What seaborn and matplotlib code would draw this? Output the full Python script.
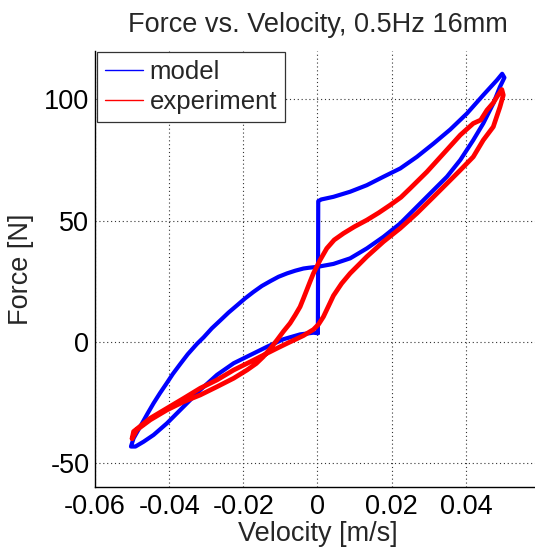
import numpy as np
import pandas as pd
import matplotlib
matplotlib.use("Agg")
import matplotlib.pyplot as plt
from matplotlib.lines import Line2D
import seaborn as sns

# Model loop: jump at v=0, upper branch to +v tip, return branch to -v tip, back to v=0
model_velocity = [
    0.0001, 0.0002, 0.0010, 0.0043, 0.0088, 0.0133, 0.0178, 0.0223, 0.0268,
    0.0313, 0.0358, 0.0403, 0.0447, 0.0484, 0.0498, 0.0504, 0.0492, 0.0474,
    0.0447, 0.0420, 0.0385, 0.0349, 0.0313, 0.0268, 0.0223, 0.0178, 0.0133,
    0.0088, 0.0043, 0.0000, -0.0024, -0.0038, -0.0060, -0.0082, -0.0105,
    -0.0127, -0.0150, -0.0173, -0.0195, -0.0217, -0.0240, -0.0262, -0.0285,
    -0.0307, -0.0325, -0.0350, -0.0370, -0.0390, -0.0406, -0.0425, -0.0442,
    -0.0458, -0.0473, -0.0486, -0.0496, -0.0503, -0.0491, -0.0469, -0.0442,
    -0.0406, -0.0361, -0.0316, -0.0271, -0.0226, -0.0181, -0.0136, -0.0092,
    -0.0047, -0.0011, 0.0001,
]
model_force = [
    3.5, 58.0, 58.7, 59.8, 61.9, 64.6, 68.1, 71.5, 76.3,
    81.8, 87.6, 94.2, 101.8, 108.0, 110.6, 109.0, 105.2, 98.3,
    90.1, 83.2, 75.0, 68.1, 62.6, 55.7, 48.8, 43.3, 38.5,
    34.4, 32.1, 30.9, 30.5, 30.2, 29.3, 28.2, 26.8,
    25.0, 23.0, 20.5, 17.9, 15.0, 12.0, 8.8, 5.5,
    1.8, -0.9, -5.2, -9.2, -13.3, -17.0, -21.3, -25.4,
    -29.6, -33.7, -37.2, -39.9, -43.3, -43.3, -41.3, -38.5,
    -33.7, -26.8, -19.9, -13.7, -8.9, -5.5, -2.1, 1.0,
    3.0, 3.7, 3.5,
]

# Measured loop
experiment_velocity = [
    -0.0500, -0.0487, -0.0451, -0.0406, -0.0361, -0.0316, -0.0271, -0.0226,
    -0.0190, -0.0165, -0.0146, -0.0127, -0.0109, -0.0092, -0.0074, -0.0060,
    -0.0047, -0.0038, -0.0029, -0.0020, -0.0011, 0.0007, 0.0025, 0.0045,
    0.0070, 0.0100, 0.0133, 0.0165, 0.0196, 0.0225, 0.0250, 0.0295, 0.0340,
    0.0385, 0.0420, 0.0440, 0.0457, 0.0474, 0.0484, 0.0497, 0.0501, 0.0492,
    0.0474, 0.0447, 0.0420, 0.0385, 0.0349, 0.0313, 0.0268, 0.0223, 0.0178,
    0.0133, 0.0088, 0.0065, 0.0043, 0.0030, 0.0016, 0.0003, -0.0011, -0.0038,
    -0.0060, -0.0082, -0.0110, -0.0136, -0.0181, -0.0226, -0.0271, -0.0316,
    -0.0361, -0.0406, -0.0451, -0.0496, -0.0500,
]
experiment_force = [
    -40.0, -36.4, -32.3, -28.2, -24.8, -22.0, -18.6, -15.1,
    -11.7, -9.0, -6.2, -2.8, 0.7, 4.2, 7.6, 11.0,
    14.4, 17.8, 21.3, 24.8, 28.2, 33.7, 38.5, 42.0,
    44.7, 47.5, 50.2, 53.2, 56.4, 59.6, 63.3, 70.1, 77.7,
    85.3, 90.1, 91.5, 95.6, 98.6, 101.1, 104.1, 101.8, 96.9,
    88.7, 83.2, 76.3, 70.8, 65.3, 59.8, 53.0, 46.8, 41.3,
    35.1, 28.2, 24.0, 19.0, 14.8, 10.3, 7.2, 5.0, 2.5,
    0.9, -0.7, -2.8, -4.8, -8.3, -11.7, -15.8, -19.2,
    -23.4, -27.5, -31.6, -37.1, -40.0,
]

x_ticks = [-0.06, -0.04, -0.02, 0, 0.02, 0.04]
x_tick_labels = ["-0.06", "-0.04", "-0.02", "0", "0.02", "0.04"]
y_ticks = [-50, 0, 50, 100]
y_tick_labels = ["-50", "0", "50", "100"]

sns.set_style("white")
plt.rcParams["font.family"] = ["Liberation Sans", "DejaVu Sans"]
plt.rcParams["axes.unicode_minus"] = False

fig = plt.figure(figsize=(5.35, 5.47), dpi=100)
ax = fig.add_axes([95 / 535, 1 - 487 / 547, 445 / 535, 436 / 547])

model_df = pd.DataFrame({"v": model_velocity, "f": model_force})
exp_df = pd.DataFrame({"v": experiment_velocity, "f": experiment_force})

line_style = dict(sort=False, estimator=None, solid_joinstyle="round",
                  solid_capstyle="round")
sns.lineplot(data=model_df, x="v", y="f", color="#0000ff", linewidth=3.0,
             ax=ax, zorder=3, **line_style)
sns.lineplot(data=exp_df, x="v", y="f", color="#ff0000", linewidth=3.4,
             ax=ax, zorder=4, **line_style)

ax.set_xlim(-0.06, 0.06)
ax.set_ylim(-60, 120)
ax.set_xticks(x_ticks)
ax.set_xticklabels(x_tick_labels)
ax.set_yticks(y_ticks)
ax.set_yticklabels(y_tick_labels)
ax.tick_params(direction="in", length=4, width=0.8, labelsize=19.5,
               colors="black", pad=5)
ax.tick_params(axis="y", pad=4)

ax.grid(True, color="#333333", linestyle=(0, (1, 2.5)), linewidth=0.8)
ax.set_axisbelow(True)
for side in ("top", "right"):
    ax.spines[side].set_visible(False)
for side in ("left", "bottom"):
    ax.spines[side].set_color("black")
    ax.spines[side].set_linewidth(1.0)

ax.set_title("Force vs. Velocity, 0.5Hz 16mm", fontsize=19.5, pad=14)
ax.set_xlabel("Velocity [m/s]", fontsize=19.5, labelpad=1)
ax.set_ylabel("Force [N]", fontsize=19.5, labelpad=7)

handles = [Line2D([], [], color="#0000ff", linewidth=1.0),
           Line2D([], [], color="#ff0000", linewidth=1.0)]
leg = ax.legend(handles, ["model", "experiment"], loc="upper left",
                bbox_to_anchor=(2 / 445, 1 - 1 / 436), borderaxespad=0,
                fontsize=18.5, frameon=True, fancybox=False, framealpha=1,
                edgecolor="#333333", borderpad=0.3, handlelength=1.5,
                handletextpad=0.25, labelspacing=0.25)
leg.get_frame().set_linewidth(0.9)

fig.savefig("out.png", dpi=100)
